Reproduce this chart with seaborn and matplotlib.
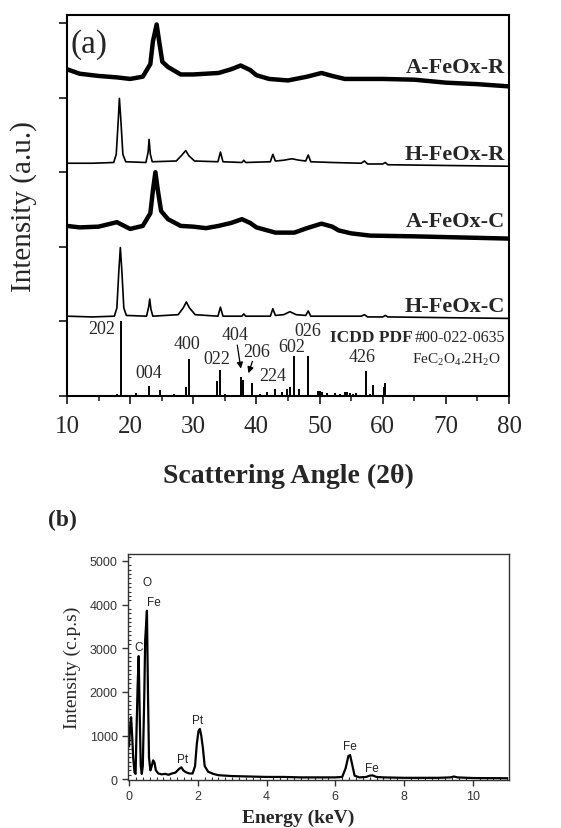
import matplotlib
matplotlib.use("Agg")
import matplotlib.pyplot as plt
import pandas as pd
import seaborn as sns
from matplotlib.ticker import MultipleLocator, NullFormatter

# ---- panel (a): XRD, intensity above each trace's own baseline ----
hc_x = [10, 14, 17.5, 17.9, 18.2, 18.45, 18.7, 19.0, 19.4, 22.6, 22.95, 23.1, 23.3, 23.6,
        27.6, 28.4, 28.9, 29.4, 30.3, 33.9, 34.3, 34.7, 37.7, 38.0, 38.3, 42.2, 42.6, 43.0,
        44.3, 45.3, 46.3, 47.8, 48.2, 48.6, 56.6, 57.1, 57.6, 60.0, 60.4, 60.8, 70, 80]
hc_y = [0.01, 0.0, 0.01, 0.12, 0.6, 0.93, 0.6, 0.12, 0.02, 0.01, 0.14, 0.24, 0.1, 0.01,
        0.03, 0.12, 0.2, 0.12, 0.03, 0.01, 0.13, 0.01, 0.01, 0.04, 0.01, 0.01, 0.11, 0.02,
        0.03, 0.07, 0.03, 0.02, 0.08, 0.01, 0.01, 0.03, 0.0, 0.0, 0.02, 0.0, -0.01, -0.02]

hr_x = [10, 14, 17.4, 17.8, 18.1, 18.3, 18.55, 18.85, 19.3, 22.5, 22.85, 23.0, 23.2, 23.5,
        27.3, 28.2, 28.8, 29.3, 30.2, 33.9, 34.3, 34.7, 37.7, 38.0, 38.3, 42.2, 42.6, 43.0,
        44.3, 45.6, 46.8, 47.8, 48.2, 48.6, 52, 56.6, 57.1, 57.6, 60.0, 60.4, 60.8, 70, 80]
hr_y = [0.0, 0.0, 0.01, 0.12, 0.55, 0.87, 0.55, 0.12, 0.02, 0.01, 0.15, 0.32, 0.12, 0.02,
        0.03, 0.11, 0.17, 0.1, 0.03, 0.02, 0.15, 0.02, 0.01, 0.04, 0.01, 0.02, 0.12, 0.03,
        0.04, 0.06, 0.04, 0.03, 0.11, 0.02, 0.01, 0.0, 0.03, -0.01, -0.01, 0.01, -0.02, -0.03, -0.04]

ac_x = [10, 12, 15, 17.9, 20, 22, 23.2, 23.6, 24.0, 24.4, 24.9, 26, 28, 30, 32, 34, 36,
        37.7, 39, 40, 43, 46, 48, 50.3, 52, 53, 55, 58, 65, 70, 75, 80]
ac_y = [0.18, 0.16, 0.17, 0.23, 0.14, 0.18, 0.35, 0.65, 0.90, 0.65, 0.38, 0.27, 0.18, 0.17,
        0.15, 0.18, 0.22, 0.27, 0.22, 0.16, 0.09, 0.09, 0.15, 0.21, 0.17, 0.12, 0.08, 0.05,
        0.04, 0.03, 0.02, 0.01]

ar_x = [10, 12, 15, 18, 20, 22, 23.2, 23.6, 24.2, 24.6, 25.1, 26, 28, 30, 32, 34, 36, 37.5,
        39, 40, 42, 45, 48, 50.3, 52, 54, 57, 60, 65, 70, 75, 80]
ar_y = [0.23, 0.17, 0.14, 0.12, 0.10, 0.13, 0.30, 0.60, 0.83, 0.60, 0.33, 0.26, 0.16, 0.16,
        0.17, 0.18, 0.23, 0.28, 0.22, 0.15, 0.10, 0.08, 0.13, 0.18, 0.14, 0.10, 0.10, 0.10,
        0.09, 0.05, 0.03, 0.00]

samples = ["H-FeOx-C", "A-FeOx-C", "H-FeOx-R", "A-FeOx-R"]

# ICDD PDF #00-022-0635 reference lines
icdd_pos = [17.9, 18.55, 21.0, 23.0, 24.7, 27.0, 27.8, 28.9, 29.27, 32.3, 33.8, 34.3, 35.1,
            37.5, 37.9, 39.3, 40.5, 41.7, 42.9, 44.0, 44.8, 45.3, 46.0, 46.7, 48.2, 49.7,
            50.1, 50.4, 51.2, 52.4, 53.3, 54.0, 54.4, 54.8, 55.3, 55.8, 57.3, 58.0, 58.5,
            60.2, 60.4]
icdd_int = [0.03, 1.0, 0.04, 0.13, 0.08, 0.03, 0.02, 0.12, 0.5, 0.02, 0.2, 0.35, 0.03,
            0.26, 0.22, 0.17, 0.03, 0.05, 0.1, 0.05, 0.1, 0.12, 0.54, 0.1, 0.54, 0.07,
            0.07, 0.05, 0.04, 0.04, 0.03, 0.05, 0.05, 0.04, 0.03, 0.04, 0.34, 0.03, 0.15,
            0.12, 0.18]
hkl_labels = ["202", "004", "400", "022", "404", "206", "224", "602", "026", "426"]

# ---- panel (b): EDS spectrum ----
eds_e = [0.0, 0.03, 0.06, 0.09, 0.12, 0.16, 0.19, 0.22, 0.25, 0.28, 0.31, 0.34, 0.37, 0.40,
         0.44, 0.47, 0.52, 0.55, 0.58, 0.62, 0.66, 0.70, 0.74, 0.78, 0.85, 0.95, 1.05, 1.15,
         1.25, 1.35, 1.45, 1.52, 1.58, 1.65, 1.75, 1.85, 1.92, 1.97, 2.02, 2.06, 2.10, 2.15,
         2.20, 2.30, 2.45, 2.6, 2.8, 3.0, 3.5, 4.0, 4.5, 5.0, 5.5, 6.0, 6.2, 6.3, 6.38, 6.43,
         6.5, 6.56, 6.7, 6.9, 7.0, 7.08, 7.2, 7.4, 8.0, 9.0, 9.35, 9.45, 9.55, 10.0, 11.0]
eds_cps = [750, 1200, 1420, 1000, 500, 150, 120, 1200, 2150, 2820, 1500, 300, 120, 300,
           1800, 3200, 3860, 2000, 500, 200, 300, 430, 380, 200, 130, 110, 120, 100,
           130, 150, 230, 270, 200, 160, 130, 130, 300, 800, 1100, 1150, 1000, 700,
           300, 170, 120, 90, 80, 70, 60, 50, 50, 40, 40, 40, 50, 250, 530, 550,
           300, 80, 40, 50, 80, 85, 50, 40, 30, 30, 40, 60, 40, 25, 20]
eds_peaks = ["O", "Fe", "C", "Pt", "Pt", "Fe", "Fe"]

sns.set_theme(style="ticks")
plt.rcParams["font.family"] = ["Liberation Serif", "DejaVu Serif"]
plt.rcParams["mathtext.fontset"] = "custom"
plt.rcParams["mathtext.rm"] = "Liberation Serif"

fig = plt.figure(figsize=(5.61, 8.29), dpi=100)
ax = fig.add_axes([0.1194, 0.5211, 0.788, 0.4596])
bx = fig.add_axes([0.2282, 0.0579, 0.679, 0.2726])

# --- (a) ---
traces = [(hc_x, hc_y), (ac_x, ac_y), (hr_x, hr_y), (ar_x, ar_y)]
offsets = [1.06, 2.10, 3.12, 4.15]
widths = [1.2, 3.2, 1.2, 3.2]
label_y = [1.21, 2.35, 3.24, 4.41]
for name, (x, y), off, lw, ly in zip(samples, traces, offsets, widths, label_y):
    df = pd.DataFrame({"two_theta": x, "intensity": [v + off for v in y]})
    sns.lineplot(data=df, x="two_theta", y="intensity", ax=ax, color="black",
                 linewidth=lw, estimator=None)
    ax.text(79.3, ly, name, ha="right", va="center", fontsize=16, fontweight="bold")

ax.vlines(icdd_pos, 0, icdd_int, color="black", linewidth=1.4)

hkl_xy = [(15.5, 0.9), (23.0, 0.32), (29.0, 0.7), (33.8, 0.5), (36.6, 0.82),
          (40.0, 0.6), (42.6, 0.27), (45.6, 0.67), (48.2, 0.88), (56.8, 0.53)]
for lab, (hx, hy) in zip(hkl_labels, hkl_xy):
    ax.text(hx, hy, lab, ha="center", va="center", fontsize=13)
ax.annotate("", xy=(37.6, 0.33), xytext=(36.9, 0.72),
            arrowprops=dict(arrowstyle="-|>", color="black", lw=0.9, mutation_scale=9))
ax.annotate("", xy=(38.6, 0.27), xytext=(39.5, 0.5),
            arrowprops=dict(arrowstyle="-|>", color="black", lw=0.9, mutation_scale=9))
ax.text(64.7, 0.79, "ICDD PDF", ha="right", va="center", fontsize=12.5, fontweight="bold")
ax.text(65.0, 0.79, "#00-022-0635", ha="left", va="center", fontsize=11.5)
ax.text(78.6, 0.5, r"$\mathrm{FeC_2O_4.2H_2O}$", ha="right", va="center", fontsize=11)
ax.text(10.5, 4.72, "(a)", ha="left", va="center", fontsize=24)

ax.set_xlim(10, 80)
ax.set_ylim(0, 5.107)
ax.xaxis.set_major_locator(MultipleLocator(10))
ax.xaxis.set_minor_locator(MultipleLocator(5))
ax.yaxis.set_major_locator(MultipleLocator(1))
ax.yaxis.set_major_formatter(NullFormatter())
ax.tick_params(axis="x", which="major", direction="out", length=6, width=1.3,
               labelsize=18, pad=8)
ax.tick_params(axis="x", which="minor", direction="out", length=3.5, width=1.2)
ax.tick_params(axis="y", which="major", direction="out", length=6, width=1.3)
for sp in ax.spines.values():
    sp.set_linewidth(1.5)
    sp.set_color("black")
ax.set_xlabel("Scattering Angle (2θ)", fontsize=20, fontweight="bold", labelpad=18)
ax.set_ylabel("Intensity (a.u.)", fontsize=21, labelpad=12)

# --- (b) ---
eds = pd.DataFrame({"energy": eds_e, "cps": eds_cps})
sns.lineplot(data=eds, x="energy", y="cps", ax=bx, color="black", linewidth=1.6,
             estimator=None)
peak_xy = [(0.51, 4510), (0.72, 4050), (0.27, 3020), (2.0, 1350), (1.55, 470),
           (6.42, 750), (7.06, 260)]
for lab, (px, py) in zip(eds_peaks, peak_xy):
    bx.text(px, py, lab, ha="center", va="center", fontsize=8.5,
            family=["Liberation Sans", "DejaVu Sans"], color="#222222")

bx.set_xlim(-0.03, 11.05)
bx.set_ylim(-20, 5160)
bx.xaxis.set_major_locator(MultipleLocator(2))
bx.xaxis.set_minor_locator(MultipleLocator(0.2))
bx.yaxis.set_major_locator(MultipleLocator(1000))
bx.yaxis.set_minor_locator(MultipleLocator(100))
bx.tick_params(which="major", direction="out", length=4, width=1.0, labelsize=9,
               colors="#333333")
bx.tick_params(which="minor", direction="in", length=2.5, width=0.8, colors="#333333")
for lab in bx.get_xticklabels() + bx.get_yticklabels():
    lab.set_family(["Liberation Sans", "DejaVu Sans"])
for sp in bx.spines.values():
    sp.set_linewidth(1.0)
    sp.set_color("#333333")
bx.set_xlabel("Energy (keV)", fontsize=14, fontweight="bold", labelpad=5)
bx.xaxis.set_label_coords(0.446, -0.125)
bx.set_ylabel("Intensity (c.p.s)", fontsize=14, labelpad=6)
fig.text(0.085, 1 - 520 / 829, "(b)", fontsize=17, fontweight="bold", va="center", ha="left")

fig.savefig("out.png", dpi=100)
